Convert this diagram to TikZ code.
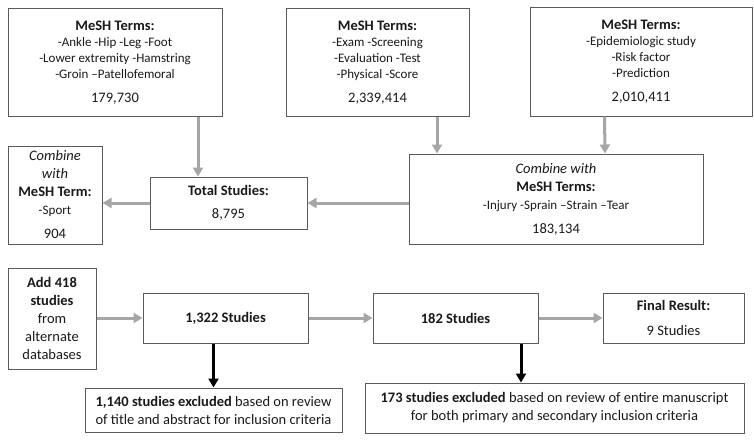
\documentclass[tikz,border=0pt]{standalone}
\usepackage{fontspec}
\setmainfont{Carlito}
\usetikzlibrary{arrows.meta,positioning}
\definecolor{Ink}{HTML}{1A1A1A}
\definecolor{BoxEdge}{HTML}{5A5A5A}
\definecolor{FlowGray}{HTML}{A6A6A6}
\newcommand{\headtxt}[1]{{\bfseries\fontsize{14.5}{17}\selectfont #1}}
\newcommand{\numtxt}[1]{{\fontsize{14.5}{17}\selectfont #1}}
\newcommand{\itxt}[1]{{\itshape\fontsize{14.5}{17}\selectfont #1}}
\tikzset{
  flow/.style={-{Triangle[length=9pt,width=10pt]}, draw=FlowGray, line width=3pt},
  cut/.style={-{Triangle[length=9pt,width=10pt]}, draw=black, line width=3pt},
  searchbox/.style={draw=BoxEdge, fill=white, line width=1pt, align=center, text=Ink,
    inner sep=2pt, font=\fontsize{13}{16}\selectfont},
  stagebox/.style={draw=BoxEdge, fill=white, line width=1pt, align=center, text=Ink,
    inner sep=2pt, font=\fontsize{14.5}{18}\selectfont},
}

\begin{document}
\begin{tikzpicture}[x=1pt, y=-1pt]
  \useasboundingbox (0,0) rectangle (754,444);

  % Three initial searches.
  \node[searchbox, minimum width=214pt, minimum height=107pt] (meshLeg) at (115,62.5)
    {\headtxt{MeSH Terms:}\\ -Ankle -Hip -Leg -Foot\\ -Lower extremity -Hamstring\\
     -Groin --Patellofemoral\\[8pt] \numtxt{179,730}};
  \node[searchbox, minimum width=183pt, minimum height=107pt] (meshExam) at (377.5,62.5)
    {\headtxt{MeSH Terms:}\\ -Exam -Screening\\ -Evaluation -Test\\
     -Physical -Score\\[8pt] \numtxt{2,339,414}};
  \node[searchbox, minimum width=222pt, minimum height=108pt] (meshRisk) at (641,62)
    {\headtxt{MeSH Terms:}\\ -Epidemiologic study\\ -Risk factor\\
     -Prediction\\[8pt] \numtxt{2,010,411}};

  % Combined searches.
  \node[stagebox, minimum width=294pt, minimum height=90pt] (combineMesh) at (556,199)
    {\itxt{Combine with}\\ \headtxt{MeSH Terms:}\\ {\fontsize{13}{16}\selectfont -Injury -Sprain --Strain --Tear}\\[6pt]
     \numtxt{183,134}};
  \node[stagebox, minimum width=157pt, minimum height=52pt] (totalStudies) at (228.5,203)
    {\headtxt{Total Studies:}\\[5pt] 8,795};
  \node[stagebox, minimum width=94pt, minimum height=98pt] (sportBox) at (55,195)
    {\itshape Combine\\ \itshape with\\ \headtxt{MeSH Term:}\\ {\fontsize{13}{16}\selectfont -Sport}\\[6pt] 904};

  % Screening stages.
  \node[stagebox, minimum width=88pt, minimum height=101pt] (addStudies) at (52,318.5)
    {\bfseries Add 418\\ \bfseries studies\\ from\\ alternate\\ databases};
  \node[stagebox, minimum width=165pt, minimum height=50pt] (studiesA) at (225.5,318)
    {\bfseries 1,322 Studies};
  \node[stagebox, minimum width=165pt, minimum height=50pt] (studiesB) at (455.5,318)
    {\bfseries 182 Studies};
  \node[stagebox, minimum width=141pt, minimum height=50pt] (finalResult) at (673.5,318)
    {\bfseries Final Result:\\[7pt] 9 Studies};
  \node[stagebox, minimum width=257pt, minimum height=44pt] (exclTitle) at (213.5,410)
    {\textbf{1,140 studies excluded} based on review\\ of title and abstract for inclusion criteria};
  \node[stagebox, minimum width=379pt, minimum height=50pt] (exclManuscript) at (554.5,408)
    {\textbf{173 studies excluded} based on review of entire manuscript\\
     for both primary and secondary inclusion criteria};

  % Search flow.
  \draw[flow] ([xshift=83pt]meshLeg.south) -- ([xshift=-30.5pt]totalStudies.north);
  \draw[flow] ([xshift=59.5pt]meshExam.south) -- ([xshift=-119pt]combineMesh.north);
  \draw[flow] ([xshift=-36.5pt]meshRisk.south) -- ([xshift=49pt]combineMesh.north);
  \draw[flow] (combineMesh.west |- totalStudies.east) -- (totalStudies.east);
  \draw[flow] (totalStudies.west) -- (sportBox.east |- totalStudies.west);

  % Screening flow.
  \draw[flow] (addStudies.east |- studiesA.west) -- (studiesA.west);
  \draw[flow] (studiesA.east) -- (studiesB.west);
  \draw[flow] (studiesB.east) -- (finalResult.west);
  \draw[cut] (studiesA.south -| exclTitle.north) -- (exclTitle.north);
  \draw[cut] ([xshift=65.5pt]studiesB.south) -- ([xshift=65.5pt]studiesB.south |- exclManuscript.north);

\end{tikzpicture}
\end{document}
